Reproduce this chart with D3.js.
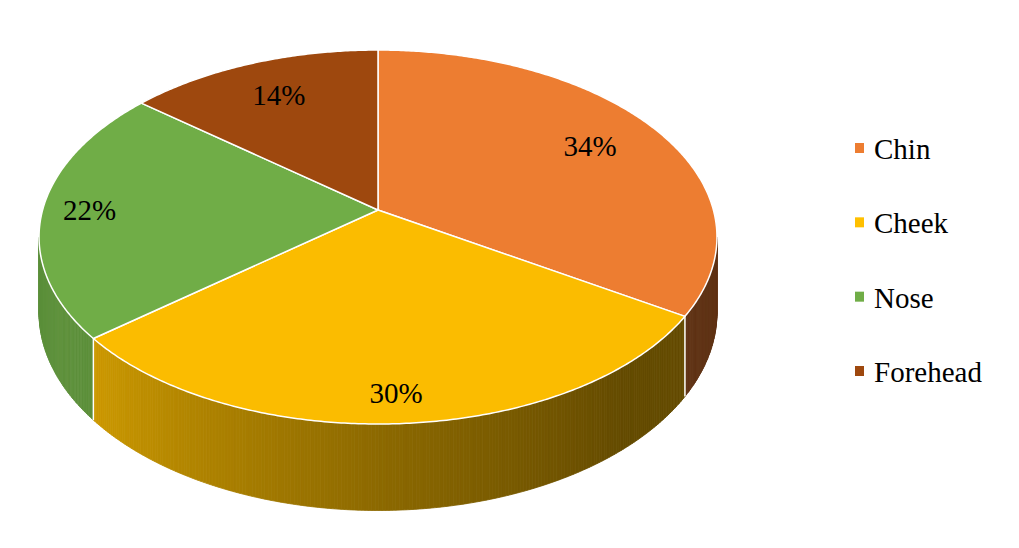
<!DOCTYPE html>
<html>
<head>
<meta charset="utf-8">
<script src="https://cdn.jsdelivr.net/npm/d3@7"></script>
<style>
  html, body { margin: 0; padding: 0; background: #ffffff; font-family: "Liberation Serif", serif; }
  svg { display: block; font-family: "Liberation Serif", serif; }
</style>
</head>
<body>
<svg id="chart" width="1019" height="548"></svg>
<script>
// ---- data ----
const categories = ["Chin", "Cheek", "Nose", "Forehead"];
const values = [34, 30, 22, 14];
const labels = ["34%", "30%", "22%", "14%"];
const topColors = ["#ED7D31", "#FBBC00", "#70AD47", "#9E480E"];
const legendColors = ["#ED7D31", "#FFC000", "#70AD47", "#9E480E"];

// ---- layout / projection ----
const cx = 378, cy = 210;      // projected pie centre
const A = 335.4, B = 183.1;    // horizontal / vertical semi-axes
const k = 0.1444;              // perspective strength
const D = 74;                  // side depth
const svg = d3.select("#chart");

function proj(theta, r) {
  const u = r * Math.sin(theta), v = -r * Math.cos(theta);
  const w = 1 - k * v;
  return [cx + A * u / w, cy + B * v / w, v, w];
}
function bottom(theta) {
  const p = proj(theta, 1);
  return [p[0], p[1] + D / p[3]];
}

const pie = d3.pie().sort(null).value(d => d)(values);

// side shading by orientation (compass degrees)
const shade = d3.scaleLinear()
  .domain([90, 140, 180, 235, 270])
  .range([0.40, 0.40, 0.56, 0.84, 0.82])
  .clamp(true);
function darken(c, f) {
  const r = d3.rgb(c);
  return d3.rgb(r.r * f, r.g * f, r.b * f).formatHex();
}

const visMin = Math.acos(-k);
const visMax = 2 * Math.PI - Math.acos(-k);
const step = Math.PI / 360;

// ---- sides ----
pie.forEach((s, i) => {
  const a0 = Math.max(s.startAngle, visMin), a1 = Math.min(s.endAngle, visMax);
  if (a1 <= a0) return;
  for (let a = a0; a < a1; a += step) {
    const b = Math.min(a + step, a1);
    const p1 = proj(a, 1), p2 = proj(b, 1), q2 = bottom(b), q1 = bottom(a);
    const deg = ((a + b) / 2) * 180 / Math.PI;
    const col = darken(topColors[i], shade(deg));
    svg.append("path")
      .attr("d", `M${p1[0]},${p1[1]}L${p2[0]},${p2[1]}L${q2[0]},${q2[1]}L${q1[0]},${q1[1]}Z`)
      .attr("fill", col)
      .attr("stroke", col)
      .attr("stroke-width", 0.8);
  }
});
pie.forEach(s => {
  const a = s.startAngle;
  if (a > visMin && a < visMax) {
    const p = proj(a, 1), q = bottom(a);
    svg.append("line")
      .attr("x1", p[0]).attr("y1", p[1])
      .attr("x2", q[0]).attr("y2", q[1])
      .attr("stroke", "#ffffff").attr("stroke-width", 1.5);
  }
});

// ---- top faces ----
pie.forEach((s, i) => {
  const pts = [[cx, cy]];
  for (let a = s.startAngle; a < s.endAngle; a += step) {
    const p = proj(a, 1); pts.push([p[0], p[1]]);
  }
  const pe = proj(s.endAngle, 1); pts.push([pe[0], pe[1]]);
  svg.append("path")
    .attr("d", "M" + pts.map(p => p.join(",")).join("L") + "Z")
    .attr("fill", topColors[i])
    .attr("stroke", "#ffffff")
    .attr("stroke-width", 1.5)
    .attr("stroke-linejoin", "round");
});

// ---- labels ----
pie.forEach((s, i) => {
  const mid = (s.startAngle + s.endAngle) / 2;
  const left = Math.max(0, -Math.sin(mid));
  const p = proj(mid, 0.76 + 0.1 * Math.pow(left, 4));
  const front = Math.max(0, -Math.cos(mid));
  svg.append("text")
    .style("font-family", "Liberation Serif")
    .attr("x", p[0])
    .attr("y", p[1] + 10 + 27 * front * front)
    .attr("text-anchor", "middle")
    .attr("font-size", 29)
    .text(labels[i]);
});

// ---- legend ----
const legY = d3.scalePoint().domain(categories).range([159, 382]);
categories.forEach((c, i) => {
  const y = legY(c);
  svg.append("rect")
    .attr("x", 855).attr("y", y - 16)
    .attr("width", 9).attr("height", 10)
    .attr("fill", legendColors[i]);
  svg.append("text")
    .style("font-family", "Liberation Serif")
    .attr("x", 874).attr("y", y)
    .attr("font-size", 29)
    .text(c);
});
</script>
</body>
</html>
